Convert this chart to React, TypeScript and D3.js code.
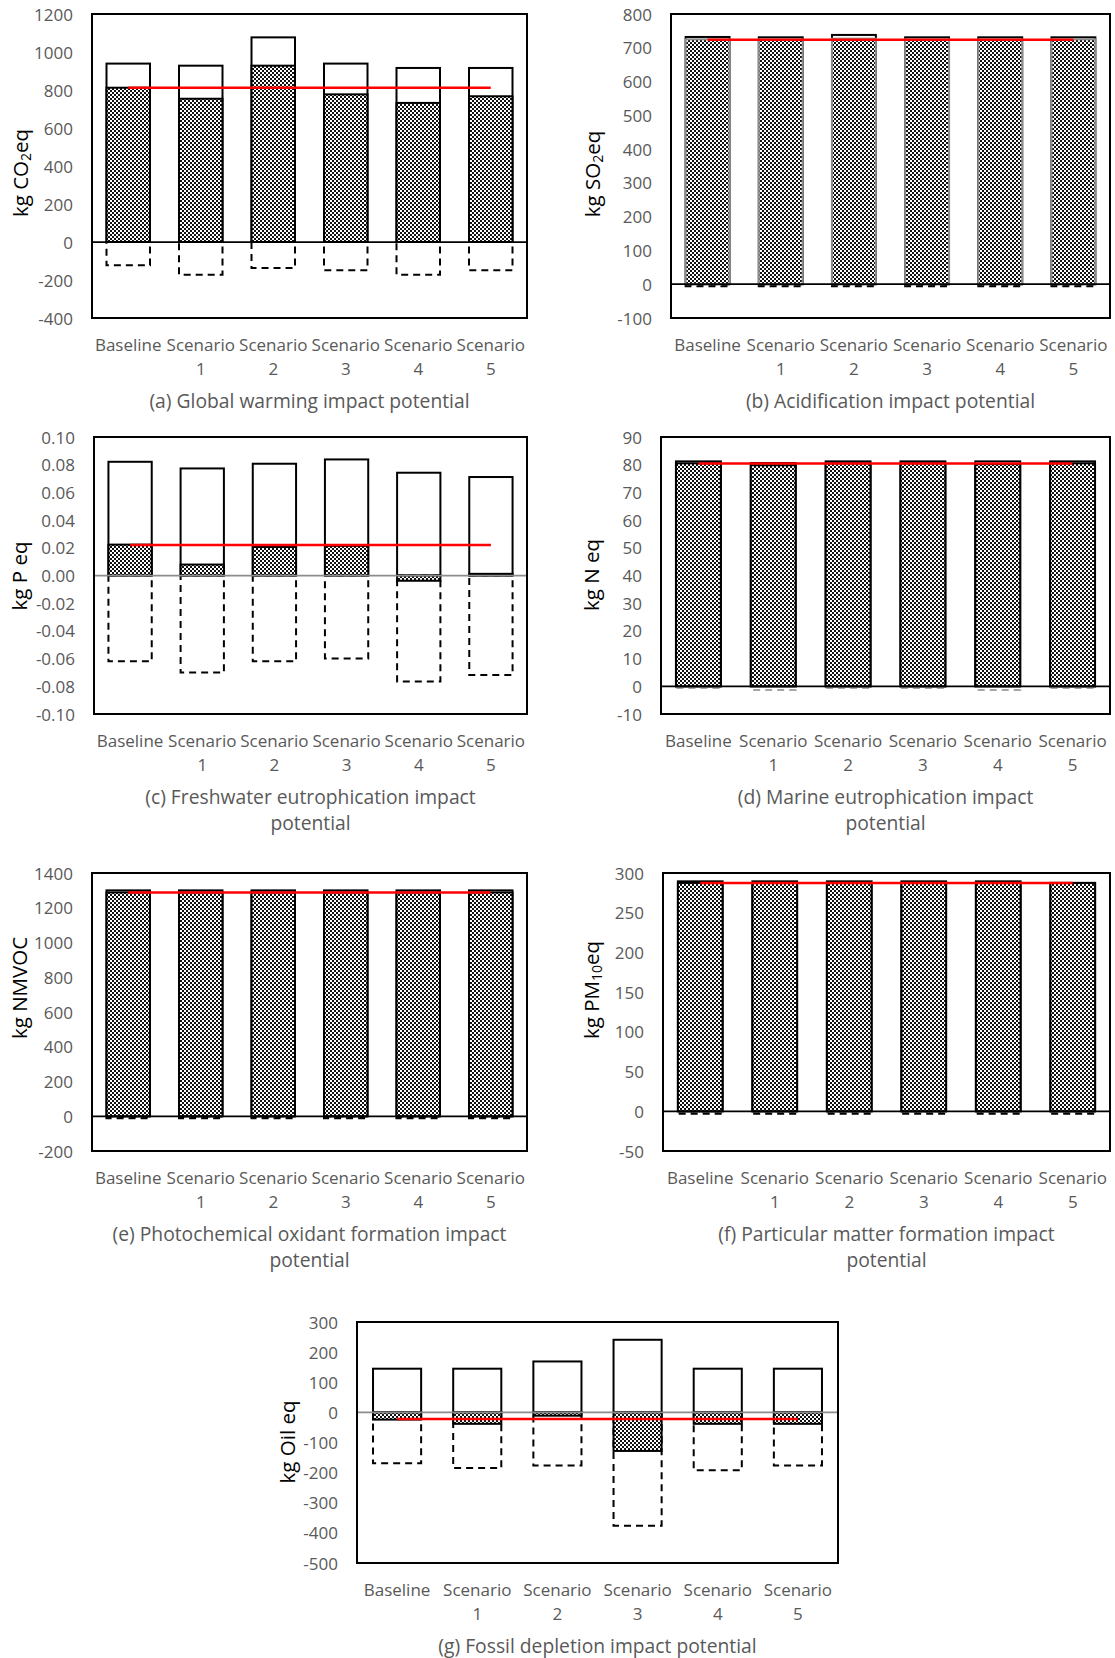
import React from "react";
import * as d3 from "d3";

// ---------- data ----------
const categories = ["Baseline", "Scenario 1", "Scenario 2", "Scenario 3", "Scenario 4", "Scenario 5"];

// (a) Global warming
const gwpTicks = [1200, 1000, 800, 600, 400, 200, 0, -200, -400];
const gwpTotal = [939, 928, 1077, 939, 916, 916];
const gwpNet = [812, 754, 928, 777, 732, 767];
const gwpCredit = [-123, -172, -137, -149, -172, -149];
const gwpRef = 812;

// (b) Acidification
const acTicks = [800, 700, 600, 500, 400, 300, 200, 100, 0, -100];
const acTotal = [732, 731, 738, 731, 731, 731];
const acNet = [725, 725, 727, 725, 725, 725];
const acCredit = [-6, -6, -6, -6, -6, -6];
const acRef = 724;

// (c) Freshwater eutrophication
const feTicks = [0.1, 0.08, 0.06, 0.04, 0.02, 0, -0.02, -0.04, -0.06, -0.08, -0.1];
const feTotal = [0.0821, 0.0773, 0.0807, 0.0838, 0.0742, 0.0711];
const feNet = [0.0223, 0.0079, 0.0206, 0.0214, -0.0038, 0.0012];
const feCredit = [-0.062, -0.07, -0.062, -0.06, -0.0766, -0.0718];
const feRef = 0.0221;

// (d) Marine eutrophication
const meTicks = [90, 80, 70, 60, 50, 40, 30, 20, 10, 0, -10];
const meTotal = [81.2, 80.6, 81.2, 81.2, 81.2, 81.2];
const meNet = [80.5, 79.8, 80.5, 80.5, 80.2, 80.5];
const meCredit = [-0.6, -1.3, -0.6, -0.6, -1.3, -0.6];
const meRef = 80.4;

// (e) Photochemical oxidant formation
const poTicks = [1400, 1200, 1000, 800, 600, 400, 200, 0, -200];
const poTotal = [1300, 1300, 1300, 1300, 1300, 1300];
const poNet = [1288, 1288, 1288, 1288, 1288, 1288];
const poCredit = [-12, -12, -12, -12, -12, -12];
const poRef = 1288;

// (f) Particulate matter formation
const pmTicks = [300, 250, 200, 150, 100, 50, 0, -50];
const pmTotal = [289.5, 289.5, 289.5, 289.5, 289.5, 287.5];
const pmNet = [287.5, 287.5, 287.5, 287.5, 287.5, 287.5];
const pmCredit = [-3, -3, -3, -3, -3, -3];
const pmRef = 287.3;

// (g) Fossil depletion
const fdTicks = [300, 200, 100, 0, -100, -200, -300, -400, -500];
const fdTotal = [145, 145, 169, 241, 145, 145];
const fdNet = [-24, -38, -11, -128, -38, -38];
const fdCredit = [-169, -185, -176, -376, -192, -176];
const fdRef = -22;

// ---------- layout / style ----------
const FONT = "'Open Sans', sans-serif";
const GREY_TEXT = "#595959";
const TICK_SIZE = 17;
const CAPTION_SIZE = 19.3;
const TITLE_SIZE = 20.5;

type Part = [string, boolean];
interface PanelCfg {
  id: string;
  x0: number; x1: number; y0: number; y1: number;
  ticks: number[];
  fmt: (d: number) => string;
  total: number[]; net: number[]; credit: number[]; ref: number;
  title: Part[];
  titleX: number;
  titleY: number;
  caption: string[];
  zeroColor: string;
  netStroke: string;
  creditStroke: string;
}

const panels: PanelCfg[] = [
  { id: "a", x0: 92, x1: 527, y0: 14, y1: 318, ticks: gwpTicks, fmt: String,
    total: gwpTotal, net: gwpNet, credit: gwpCredit, ref: gwpRef,
    title: [["kg CO", false], ["2", true], ["eq", false]], titleX: 20, titleY: 173,
    caption: ["(a) Global warming impact potential"], zeroColor: "#000", netStroke: "#000", creditStroke: "#000" },
  { id: "b", x0: 671, x1: 1110, y0: 14, y1: 318, ticks: acTicks, fmt: String,
    total: acTotal, net: acNet, credit: acCredit, ref: acRef,
    title: [["kg SO", false], ["2", true], ["eq", false]], titleX: 592, titleY: 174,
    caption: ["(b) Acidification impact potential"], zeroColor: "#000", netStroke: "#8c8c8c", creditStroke: "#000" },
  { id: "c", x0: 94, x1: 527, y0: 437, y1: 714, ticks: feTicks, fmt: (d) => d.toFixed(2),
    total: feTotal, net: feNet, credit: feCredit, ref: feRef,
    title: [["kg P eq", false]], titleX: 19, titleY: 576,
    caption: ["(c) Freshwater eutrophication impact", "potential"], zeroColor: "#8c8c8c", netStroke: "#000", creditStroke: "#000" },
  { id: "d", x0: 661, x1: 1110, y0: 437, y1: 714, ticks: meTicks, fmt: String,
    total: meTotal, net: meNet, credit: meCredit, ref: meRef,
    title: [["kg N eq", false]], titleX: 591, titleY: 575,
    caption: ["(d) Marine eutrophication impact", "potential"], zeroColor: "#000", netStroke: "#000", creditStroke: "#a6a6a6" },
  { id: "e", x0: 92, x1: 527, y0: 873, y1: 1151, ticks: poTicks, fmt: String,
    total: poTotal, net: poNet, credit: poCredit, ref: poRef,
    title: [["kg NMVOC", false]], titleX: 19, titleY: 988,
    caption: ["(e) Photochemical oxidant formation impact", "potential"], zeroColor: "#000", netStroke: "#000", creditStroke: "#000" },
  { id: "f", x0: 663, x1: 1110, y0: 873, y1: 1151, ticks: pmTicks, fmt: String,
    total: pmTotal, net: pmNet, credit: pmCredit, ref: pmRef,
    title: [["kg PM", false], ["10", true], ["eq", false]], titleX: 591, titleY: 990,
    caption: ["(f) Particular matter formation impact", "potential"], zeroColor: "#000", netStroke: "#000", creditStroke: "#000" },
  { id: "g", x0: 357, x1: 838, y0: 1322, y1: 1563, ticks: fdTicks, fmt: String,
    total: fdTotal, net: fdNet, credit: fdCredit, ref: fdRef,
    title: [["kg Oil eq", false]], titleX: 287, titleY: 1442,
    caption: ["(g) Fossil depletion impact potential"], zeroColor: "#8c8c8c", netStroke: "#000", creditStroke: "#000" },
];

function YTitle({ parts, x, y }: { parts: Part[]; x: number; y: number }) {
  const out: React.ReactNode[] = [];
  let prevSub = false;
  parts.forEach(([t, sub], i) => {
    let dy = 0;
    if (sub && !prevSub) dy = 5;
    if (!sub && prevSub) dy = -5;
    out.push(
      <tspan key={i} dy={dy} fontSize={sub ? 14 : TITLE_SIZE}>{t}</tspan>
    );
    prevSub = sub;
  });
  return (
    <text transform={`translate(${x},${y}) rotate(-90)`} textAnchor="middle" dominantBaseline="central"
      fontFamily={FONT} fontSize={TITLE_SIZE} fill="#000">
      {out}
    </text>
  );
}

function Panel({ p }: { p: PanelCfg }) {
  const x = d3.scaleBand<string>().domain(categories).range([p.x0, p.x1]).paddingInner(0.4).paddingOuter(0.2);
  const y = d3.scaleLinear().domain([p.ticks[p.ticks.length - 1], p.ticks[0]]).range([p.y1, p.y0]);
  const bw = x.bandwidth();
  const rect = (v: number) => ({ y: y(Math.max(0, v)), h: Math.max(0.5, Math.abs(y(v) - y(0))) });
  const cx = (c: string) => (x(c) as number) + bw / 2;
  return (
    <g>
      {/* y tick labels */}
      {p.ticks.map((t) => (
        <text key={t} x={p.x0 - 19} y={y(t)} textAnchor="end" dominantBaseline="central"
          fontFamily={FONT} fontSize={TICK_SIZE} fill={GREY_TEXT}>{p.fmt(t)}</text>
      ))}
      {/* total bars */}
      {categories.map((c, i) => {
        const r = rect(p.total[i]);
        return <rect key={"t" + c} x={x(c)} y={r.y} width={bw} height={r.h} fill="#fff" stroke="#000" strokeWidth={2} />;
      })}
      {/* credit bars (dashed) */}
      {categories.map((c, i) => {
        const r = rect(p.credit[i]);
        return <rect key={"c" + c} x={x(c)} y={r.y} width={bw} height={r.h} fill="none" stroke={p.creditStroke}
          strokeWidth={2} strokeDasharray="7 5" />;
      })}
      {/* net bars */}
      {categories.map((c, i) => {
        const r = rect(p.net[i]);
        return <rect key={"n" + c} x={x(c)} y={r.y} width={bw} height={r.h} fill="url(#chk)" stroke={p.netStroke} strokeWidth={2} />;
      })}
      {/* zero line */}
      <line x1={p.x0} x2={p.x1} y1={y(0)} y2={y(0)} stroke={p.zeroColor} strokeWidth={1.75} />
      {/* reference line */}
      <line x1={cx(categories[0])} x2={cx(categories[categories.length - 1])} y1={y(p.ref)} y2={y(p.ref)}
        stroke="#ff0000" strokeWidth={2.5} />
      {/* plot box */}
      <rect x={p.x0} y={p.y0} width={p.x1 - p.x0} height={p.y1 - p.y0} fill="none" stroke="#000" strokeWidth={2} />
      {/* category labels */}
      {categories.map((c) => {
        const lines = c.split(" ");
        return (
          <text key={"l" + c} x={cx(c)} y={p.y1 + 26} textAnchor="middle" dominantBaseline="central"
            fontFamily={FONT} fontSize={TICK_SIZE} fill={GREY_TEXT}>
            {lines.map((ln, j) => (
              <tspan key={j} x={cx(c)} dy={j === 0 ? 0 : 24}>{ln}</tspan>
            ))}
          </text>
        );
      })}
      {/* caption */}
      <text x={(p.x0 + p.x1) / 2} y={p.y1 + 82} textAnchor="middle" dominantBaseline="central"
        fontFamily={FONT} fontSize={CAPTION_SIZE} fill={GREY_TEXT}>
        {p.caption.map((ln, j) => (
          <tspan key={j} x={(p.x0 + p.x1) / 2} dy={j === 0 ? 0 : 26}>{ln}</tspan>
        ))}
      </text>
      <YTitle parts={p.title} x={p.titleX} y={p.titleY} />
    </g>
  );
}

export default function App() {
  return (
    <svg width={1115} height={1658} style={{ position: "absolute", left: 0, top: 0, background: "#fff" }}>
      <defs>
        <pattern id="chk" width={4} height={4} patternUnits="userSpaceOnUse">
          <rect width={4} height={4} fill="#fff" />
          <rect x={0} y={0} width={2} height={2} fill="#111" />
          <rect x={2} y={2} width={2} height={2} fill="#111" />
        </pattern>
      </defs>
      <rect width={1115} height={1658} fill="#fff" />
      {panels.map((p) => <Panel key={p.id} p={p} />)}
    </svg>
  );
}
